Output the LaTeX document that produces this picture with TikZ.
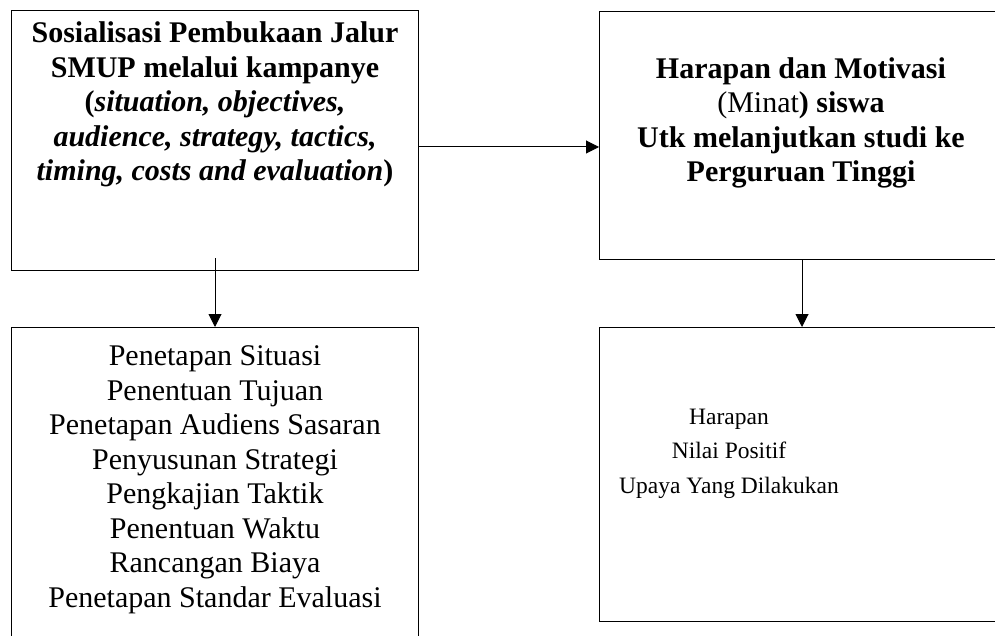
\documentclass[tikz,border=0pt]{standalone}
\usepackage{fontspec}
\setmainfont{Liberation Serif}
\usetikzlibrary{arrows.meta}
\begin{document}
\begin{tikzpicture}[x=1pt,y=-1pt,
  box/.style={draw,line width=1pt,inner sep=0pt,anchor=north west},
  rbox/.style={box,line width=1.3pt},
  txt/.style={inner sep=0pt,align=center,anchor=base,font=\fontsize{30}{34.5}\selectfont},
  stxt/.style={txt,font=\fontsize{23.5}{34.5}\selectfont},
  arr/.style={line width=1pt,-{Triangle[length=13pt,width=13pt]}}]
\useasboundingbox (0,0) rectangle (995,636);
\clip (0,0) rectangle (995,636);
\fill[white] (0,0) rectangle (995,636);
\node[box,minimum width=407pt,minimum height=260pt] (tl) at (11,10) {};
\node[rbox,minimum width=411pt,minimum height=248pt] (tr) at (599,11) {};
\node[box,minimum width=407pt,minimum height=323pt] (bl) at (11,327) {};
\node[rbox,minimum width=411pt,minimum height=294pt] (br) at (599,327) {};
\node[txt] (tlt) at (215,181) {\textbf{Sosialisasi Pembukaan Jalur}\\ \textbf{SMUP melalui kampanye}\\ \textbf{(\textit{situation, objectives,}}\\ \textbf{\textit{audience, strategy, tactics,}}\\ \textbf{\textit{timing, costs and evaluation})}};
\node[txt] (trt) at (801,182) {\textbf{Harapan dan Motivasi}\\ (Minat\textbf{) siswa}\\ \textbf{Utk melanjutkan studi ke}\\ \textbf{Perguruan Tinggi}};
\node[txt] (blt) at (215,607) {Penetapan Situasi\\ Penentuan Tujuan\\ Penetapan Audiens Sasaran\\ Penyusunan Strategi\\ Pengkajian Taktik\\ Penentuan Waktu\\ Rancangan Biaya\\ Penetapan Standar Evaluasi};
\node[stxt] (brt) at (729,493) {Harapan\\ Nilai Positif\\ Upaya Yang Dilakukan};
\coordinate (a1) at (215,258);
\draw[arr] (a1) -- (bl.north -| a1);
\coordinate (ax) at (802,0);
\draw[arr] (tr.south -| ax) -- (br.north -| ax);
\coordinate (ay) at (0,147);
\draw[arr] (tl.east |- ay) -- (tr.west |- ay);
\end{tikzpicture}
\end{document}
